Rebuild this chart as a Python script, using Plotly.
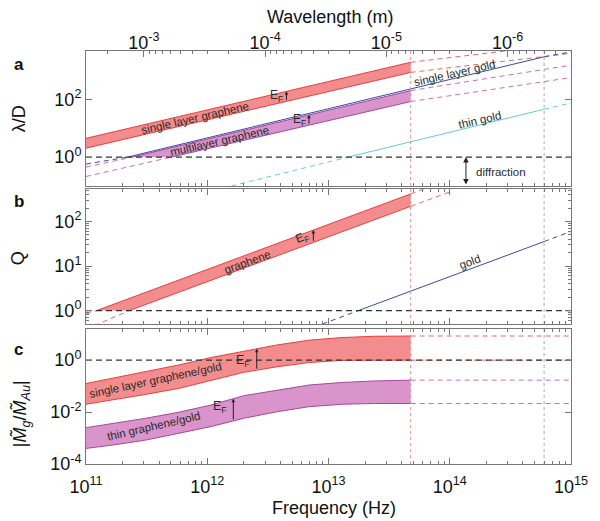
import numpy as np
import plotly.graph_objects as go

C_LIGHT = 2.998e8
F_CUT = 4.76e13   # end of graphene curves (red dotted line)
F_AU = 6.0e14     # end of gold curves (grey dotted line)

# ---------------- panel a : lambda/D ----------------
a_sg_freq = [1e11, F_CUT]
a_sg_upper = [4.47, 1905]
a_sg_lower = [2.04, 851]
a_ext_freq = [F_CUT, 1e15]
a_sg_upper_ext = [1905, 8700]
a_sg_lower_ext = [851, 3890]

a_ml_upper_freq = [1e11, 2.4e11, F_CUT]
a_ml_upper = [0.452, 1.0, 200]
a_ml_lower_freq = [1e11, 5.06e11, F_CUT]
a_ml_lower = [0.214, 1.0, 83.2]
a_ml_upper_ext = [200, 1510]
a_ml_lower_ext = [83.2, 562]

a_au_freq = [1e11, 2.2e11, F_AU, 1e15]
a_au = [0.575, 1.0, 2950, 4365]

a_thin_freq = [1.58e12, 1.45e13, F_AU, 1e15]
a_thin = [0.1, 1.0, 45.2, 74]

# ---------------- panel b : Q ----------------
b_up_freq = [1e11, 1.22e11, F_CUT, 1e14]
b_up = [0.83, 1.0, 417, 877]
b_lo_freq = [1e11, 2.27e11, F_CUT, 1e14]
b_lo = [0.38, 1.0, 219, 460]
b_au_freq = [8.9e12, 1.76e13, F_AU, 1e15]
b_au = [0.5, 1.0, 35.5, 60]

# ---------------- panel c : |Mg/MAu| ----------------
c_freq = [1e11, 1.66e11, 3.10e11, 5.77e11, 1.07e12, 2.0e12, 3.72e12, 6.93e12, 1.29e13, 2.4e13, F_CUT]
c_sg_upper = [0.126, 0.20, 0.355, 0.646, 1.26, 2.24, 3.80, 5.89, 7.41, 8.32, 8.51]
c_sg_lower = [0.020, 0.029, 0.048, 0.081, 0.17, 0.34, 0.55, 0.81, 0.98, 1.0, 1.0]
c_th_upper = [0.00251, 0.00363, 0.00575, 0.00977, 0.0186, 0.0427, 0.0708, 0.110, 0.138, 0.158, 0.170]
c_th_lower = [0.000398, 0.000537, 0.000832, 0.00151, 0.00275, 0.00575, 0.0102, 0.0162, 0.0200, 0.0214, 0.0214]

# EF arrow frequencies
ef_a_sg, ef_a_ml, ef_b, ef_c_sg, ef_c_th = 4.5e12, 6.9e12, 7.5e12, 2.56e12, 1.64e12
diff_arrow_freq = 1.36e14

# tick labels
freq_ticks = [1e11, 1e12, 1e13, 1e14, 1e15]
freq_labels = ["10<sup>11</sup>", "10<sup>12</sup>", "10<sup>13</sup>", "10<sup>14</sup>", "10<sup>15</sup>"]
wl_ticks = [1e-3, 1e-4, 1e-5, 1e-6]
wl_labels = ["10<sup>-3</sup>", "10<sup>-4</sup>", "10<sup>-5</sup>", "10<sup>-6</sup>"]

RED = "#e8403f"
RED_FILL = "#f38c8d"
RED_DASH = "#e8646c"
PUR = "#a5489c"
PUR_FILL = "#d894cb"
PUR_DASH = "#c56fb8"
BLUE = "#3b4ba0"
CYAN = "#66cccc"
FRAME = "#777777"
TXT = "#2a2a2a"
FONT = "Liberation Sans, Arial, sans-serif"

fig = go.Figure()


def line(x, y, ax, color, dash="solid", width=1.0):
    fig.add_trace(go.Scatter(x=x, y=y, mode="lines", xaxis=ax[0], yaxis=ax[1],
                             line=dict(color=color, dash=dash, width=width),
                             hoverinfo="skip", showlegend=False))


def poly(x, y, ax, color):
    fig.add_trace(go.Scatter(x=x, y=y, mode="lines", fill="toself", fillcolor=color,
                             xaxis=ax[0], yaxis=ax[1], line=dict(width=0),
                             hoverinfo="skip", showlegend=False))


DASH = "5px,4px"
A, B, Cc = ("x3", "y3"), ("x2", "y2"), ("x", "y")
yr = {"a": (-1, 3.67), "b": (-0.3, 2.73), "c": (-4, 1.2)}

# ----- panel a -----
poly([a_sg_freq[0], a_sg_freq[1], a_sg_freq[1], a_sg_freq[0]],
     [a_sg_upper[0], a_sg_upper[1], a_sg_lower[1], a_sg_lower[0]], A, RED_FILL)
line(a_sg_freq, a_sg_upper, A, RED)
line(a_sg_freq, a_sg_lower, A, RED)
line(a_ext_freq, a_sg_upper_ext, A, RED_DASH, DASH)
line(a_ext_freq, a_sg_lower_ext, A, RED_DASH, DASH)

poly([a_ml_upper_freq[1], a_ml_upper_freq[2], a_ml_lower_freq[2], a_ml_lower_freq[1]],
     [a_ml_upper[1], a_ml_upper[2], a_ml_lower[2], a_ml_lower[1]], A, PUR_FILL)
line(a_ml_upper_freq[1:], a_ml_upper[1:], A, PUR)
line(a_ml_lower_freq[1:], a_ml_lower[1:], A, PUR)
line(a_ml_upper_freq[:2], a_ml_upper[:2], A, PUR_DASH, DASH)
line(a_ml_lower_freq[:2], a_ml_lower[:2], A, PUR_DASH, DASH)
line(a_ext_freq, a_ml_upper_ext, A, PUR_DASH, DASH)
line(a_ext_freq, a_ml_lower_ext, A, PUR_DASH, DASH)

line(a_au_freq[1:3], a_au[1:3], A, BLUE)
line(a_au_freq[:2], a_au[:2], A, BLUE, DASH)
line(a_au_freq[2:], a_au[2:], A, BLUE, DASH)

line(a_thin_freq[1:3], a_thin[1:3], A, CYAN)
line(a_thin_freq[:2], a_thin[:2], A, CYAN, DASH)
line(a_thin_freq[2:], a_thin[2:], A, CYAN, DASH)

# ----- panel b -----
poly([b_up_freq[1], b_up_freq[2], b_lo_freq[2], b_lo_freq[1]],
     [b_up[1], b_up[2], b_lo[2], b_lo[1]], B, RED_FILL)
for fx, fy in ((b_up_freq, b_up), (b_lo_freq, b_lo)):
    line(fx[1:3], fy[1:3], B, RED)
    line(fx[:2], fy[:2], B, RED_DASH, DASH)
    line(fx[2:], fy[2:], B, RED_DASH, DASH)
line(b_au_freq[1:3], b_au[1:3], B, BLUE)
line(b_au_freq[:2], b_au[:2], B, BLUE, DASH)
line(b_au_freq[2:], b_au[2:], B, BLUE, DASH)

# ----- panel c -----
poly(c_freq + c_freq[::-1], c_sg_upper + c_sg_lower[::-1], Cc, RED_FILL)
poly(c_freq + c_freq[::-1], c_th_upper + c_th_lower[::-1], Cc, PUR_FILL)
for arr, col, dcol in ((c_sg_upper, RED, RED_DASH), (c_sg_lower, RED, RED_DASH),
                       (c_th_upper, PUR, PUR_DASH), (c_th_lower, PUR, PUR_DASH)):
    line(c_freq, arr, Cc, col)
    line([F_CUT, 1e15], [arr[-1], arr[-1]], Cc, dcol, DASH)

# unity lines and dotted markers
for ax, key in ((A, "a"), (B, "b"), (Cc, "c")):
    line([1e11, 1e15], [1, 1], ax, "#333333", "6px,4px", 1.2)
    lo, hi = 10 ** yr[key][0], 10 ** yr[key][1]
    line([F_CUT, F_CUT], [lo, hi], ax, "#ec8a8a", "dot", 1)
    line([F_AU, F_AU], [lo, hi], ax, "#aaaaaa", "dot", 1)

# dummy trace for wavelength axis
fig.add_trace(go.Scatter(x=[1e-4], y=[1], xaxis="x4", yaxis="y3", mode="markers",
                         marker=dict(opacity=0), hoverinfo="skip", showlegend=False))


def lg(v):
    return float(np.log10(v))


def band_at(f, fx, up, lo):
    lf = np.log10(fx)
    return (float(np.interp(lg(f), lf, np.log10(lo))), float(np.interp(lg(f), lf, np.log10(up))))


ann = []


def text(x, y, s, ax, angle=0, size=11.5):
    ann.append(dict(x=x, y=y, xref=ax[0], yref=ax[1], text=s, showarrow=False,
                    textangle=angle, font=dict(size=size, color=TXT, family=FONT)))


def arrow(f, ylo, yhi, ax, both=False, size=0.7):
    ann.append(dict(x=lg(f), y=yhi, ax=lg(f), ay=ylo, xref=ax[0], yref=ax[1],
                    axref=ax[0], ayref=ax[1], text="", showarrow=True,
                    arrowhead=2, arrowsize=size, arrowwidth=1, arrowcolor="#222",
                    arrowside="end+start" if both else "end"))


EF = "E<sub>F</sub>"
# panel a texts
text(11.896, 1.36, "single layer graphene", A, -13)
text(12.10, 0.56, "multilayer graphene", A, -13)
text(14.042, 2.92, "single layer gold", A, -13)
text(14.245, 1.30, "thin gold", A, -13)
text(14.42, -0.5, "diffraction", A, 0)
lo_, hi_ = band_at(ef_a_sg, a_sg_freq, a_sg_upper, a_sg_lower)
arrow(ef_a_sg, lo_, hi_, A)
text(lg(ef_a_sg) - 0.08, (lo_ + hi_) / 2, EF, A, 0, 12)
lo_ = float(np.interp(lg(ef_a_ml), np.log10(a_ml_lower_freq[1:]), np.log10(a_ml_lower[1:])))
hi_ = float(np.interp(lg(ef_a_ml), np.log10(a_ml_upper_freq[1:]), np.log10(a_ml_upper[1:])))
arrow(ef_a_ml, lo_, hi_, A)
text(lg(ef_a_ml) - 0.08, (lo_ + hi_) / 2, EF, A, 0, 12)
arrow(diff_arrow_freq, -1, 0, A, both=True, size=1.1)

# panel b texts
text(12.33, 1.10, "graphene", B, -20)
text(14.163, 1.09, "gold", B, -20)
lo_ = float(np.interp(lg(ef_b), np.log10(b_lo_freq[1:3]), np.log10(b_lo[1:3])))
hi_ = float(np.interp(lg(ef_b), np.log10(b_up_freq[1:3]), np.log10(b_up[1:3])))
arrow(ef_b, lo_, hi_, B)
text(lg(ef_b) - 0.09, (lo_ + hi_) / 2 - 0.05, EF, B, -20, 12)

# panel c texts
text(11.572, -0.77, "single layer graphene/gold", Cc, -12)
text(11.56, -2.53, "thin graphene/gold", Cc, -13)
lo_, hi_ = band_at(ef_c_sg, c_freq, c_sg_upper, c_sg_lower)
arrow(ef_c_sg, lo_, hi_, Cc)
text(lg(ef_c_sg) - 0.11, (lo_ + hi_) / 2 - 0.05, EF, Cc, 0, 12.5)
lo_, hi_ = band_at(ef_c_th, c_freq, c_th_upper, c_th_lower)
arrow(ef_c_th, lo_, hi_, Cc)
text(lg(ef_c_th) - 0.11, (lo_ + hi_) / 2 + 0.1, EF, Cc, 0, 12.5)


# paper annotations (titles, panel letters); window pixel -> paper fraction
def px2paper(px, py):
    return (px - 86) / 494, (464 - py) / 413


def ptext(px, py, s, size, angle=0, bold=False):
    x, y = px2paper(px, py)
    ann.append(dict(x=x, y=y, xref="paper", yref="paper", text=f"<b>{s}</b>" if bold else s,
                    showarrow=False, textangle=angle, xanchor="center", yanchor="middle",
                    font=dict(size=size, color="#111", family=FONT)))


ptext(18, 64, "a", 17, bold=True)
ptext(18, 201, "b", 17, bold=True)
ptext(17, 349, "c", 17, bold=True)
ptext(18, 119, "λ/D", 18, -90)
ptext(17, 258, "Q", 18, -90)
ptext(20, 414, "|<i>M\u0303</i><sub><i>g</i></sub>/<i>M\u0303</i><sub><i>Au</i></sub>|", 18, -90)
ptext(339, 508, "Frequency (Hz)", 18)
ptext(335, 17, "Wavelength (m)", 18)

fig.update_layout(annotations=ann)

minor_f = [k * 10.0 ** n for n in range(11, 15) for k in range(2, 10)]
minor_wl = [k * 10.0 ** n for n in range(-7, -2) for k in range(2, 10) if 3e-7 <= k * 10.0 ** n <= 3e-3]
minor_q = [k * 10.0 ** n for n in range(-1, 3) for k in range(2, 10)]

tickfont = dict(size=18, color="#111", family=FONT)
common_x = dict(type="log", range=[11, 15], showline=True, linecolor=FRAME, linewidth=1,
                ticks="inside", ticklen=6, tickcolor=FRAME, tickvals=freq_ticks,
                ticktext=freq_labels, showgrid=False, zeroline=False,
                minor=dict(ticks="inside", ticklen=3, tickcolor=FRAME, tickvals=minor_f),
                tickfont=tickfont)
common_y = dict(type="log", showline=True, linecolor=FRAME, linewidth=1, mirror="ticks",
                ticks="inside", ticklen=6, tickcolor=FRAME, showgrid=False, zeroline=False,
                tickfont=tickfont)

# page body has an 8px margin: figure is 592x513 so the plot area lands at x 86-580, y 51-464
fig.update_layout(
    width=592, height=513,
    margin=dict(l=78, r=20, t=43, b=57),
    paper_bgcolor="white", plot_bgcolor="white",
    font=dict(family=FONT, color="#111"),
    showlegend=False,
    xaxis=dict(**common_x, anchor="y", domain=[0, 1], mirror="ticks", ticklabelstandoff=6),
    xaxis2=dict(**common_x, anchor="y2", domain=[0, 1], mirror="ticks", showticklabels=False, matches="x"),
    xaxis3=dict(**common_x, anchor="y3", domain=[0, 1], mirror=True, showticklabels=False, matches="x"),
    xaxis4=dict(type="log", overlaying="x3", side="top", anchor="y3",
                range=[np.log10(C_LIGHT / 1e11), np.log10(C_LIGHT / 1e15)],
                tickvals=wl_ticks, ticktext=wl_labels, ticks="inside", ticklen=6,
                tickcolor=FRAME, showline=True, linecolor=FRAME, showgrid=False,
                zeroline=False, tickfont=dict(size=18, color="#111", family=FONT),
                ticklabelstandoff=-6,
                minor=dict(ticks="inside", ticklen=3, tickcolor=FRAME, tickvals=minor_wl)),
    yaxis=dict(**common_y, domain=[0, 0.3269], range=list(yr["c"]),
               tickvals=[1e-4, 1e-2, 1], ticktext=["10<sup>-4</sup>", "10<sup>-2</sup>", "10<sup>0</sup>"]),
    yaxis2=dict(**common_y, domain=[0.339, 0.6659], range=list(yr["b"]),
                tickvals=[1, 10, 100], ticktext=["10<sup>0</sup>", "10<sup>1</sup>", "10<sup>2</sup>"],
                minor=dict(ticks="inside", ticklen=3, tickcolor=FRAME, tickvals=minor_q)),
    yaxis3=dict(**common_y, domain=[0.6731, 1], range=list(yr["a"]),
                tickvals=[1, 100], ticktext=["10<sup>0</sup>", "10<sup>2</sup>"]),
)

fig.write_html("out.html")
